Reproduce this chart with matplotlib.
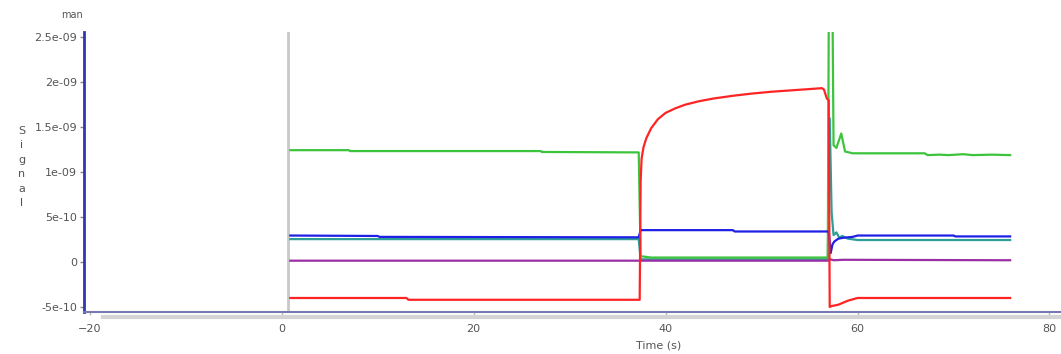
import matplotlib
matplotlib.use("Agg")
import matplotlib.pyplot as plt
from matplotlib.lines import Line2D

# sensorgram traces, time in s, signal in units of 1e-10
green_t = [0.9, 7.0, 7.1, 27.0, 27.1, 37.2, 37.4, 38.5, 56.9, 57.0, 57.4, 57.5,
           57.8, 58.3, 58.7, 59.5, 67.0, 67.3, 68.5, 69.5, 71.0, 72.0, 74.0, 75.9]
green_v = [12.45, 12.45, 12.35, 12.35, 12.25, 12.2, 0.65, 0.5, 0.5, 27.0, 27.0, 13.0,
           12.7, 14.3, 12.3, 12.1, 12.1, 11.9, 11.95, 11.9, 12.0, 11.9, 11.95, 11.9]

red_t = [0.9, 13.0, 13.2, 37.3, 37.4, 37.5, 37.7, 38.0, 38.5, 39.2, 40.0, 41.0, 42.0,
         43.5, 45.0, 47.0, 49.0, 51.0, 53.0, 55.0, 56.3, 56.5, 56.8, 57.0, 57.1, 57.3,
         58.0, 59.0, 60.0, 75.9]
red_v = [-4.0, -4.0, -4.2, -4.2, 9.0, 11.5, 12.8, 13.8, 14.9, 15.9, 16.6, 17.1, 17.5,
         17.9, 18.2, 18.5, 18.75, 18.95, 19.1, 19.25, 19.35, 19.2, 18.2, 18.0, -5.0, -4.9,
         -4.75, -4.3, -4.0, -4.0]

blue_t = [0.9, 10.0, 10.2, 37.2, 37.4, 47.0, 47.2, 57.0, 57.2, 57.4, 57.6, 58.0,
          58.5, 59.5, 60.0, 70.0, 70.2, 75.9]
blue_v = [2.95, 2.9, 2.8, 2.75, 3.55, 3.55, 3.4, 3.4, 1.0, 2.0, 2.3, 2.6,
          2.7, 2.8, 2.95, 2.95, 2.85, 2.85]

teal_t = [0.9, 37.2, 37.4, 56.9, 57.1, 57.3, 57.5, 57.8, 58.1, 58.4, 59.0, 60.0, 75.9]
teal_v = [2.55, 2.55, 0.3, 0.3, 16.0, 5.5, 3.0, 3.3, 2.7, 2.9, 2.6, 2.45, 2.45]

purple_t = [0.9, 57.0, 57.2, 57.5, 58.5, 75.9]
purple_v = [0.15, 0.15, 0.3, 0.2, 0.25, 0.2]

y_ticks = [-5e-10, 0, 5e-10, 1e-09, 1.5e-09, 2e-09, 2.5e-09]
y_ticklabels = ["-5e-10", "0", "5e-10", "1e-09", "1.5e-09", "2e-09", "2.5e-09"]
x_ticks = [-20, 0, 20, 40, 60, 80]

W, H = 1061, 354
fig = plt.figure(figsize=(W / 100, H / 100), dpi=100)
ax = fig.add_axes([84 / W, 42 / H, (W - 84) / W, 280 / H])

def e10(vals):
    return [v * 1e-10 for v in vals]

ax.axvline(0.7, color="#c8c8c8", lw=2, zorder=1)
lw = 1.6
ax.plot(teal_t, e10(teal_v), color="#2e9e96", lw=lw, zorder=2)
ax.plot(green_t, e10(green_v), color="#3cc43c", lw=lw, zorder=3)
ax.plot(blue_t, e10(blue_v), color="#1f1fe6", lw=lw, zorder=4)
ax.plot(purple_t, e10(purple_v), color="#9b2fa6", lw=lw, zorder=5)
ax.plot(red_t, e10(red_v), color="#ff2424", lw=lw, zorder=6)

ax.set_xlim(-20.6, 81.2)
ax.set_ylim(-5.56e-10, 2.56e-09)
ax.set_yticks(y_ticks)
ax.set_yticklabels(y_ticklabels)
ax.set_xticks(x_ticks)

for s in ("top", "right"):
    ax.spines[s].set_visible(False)
ax.spines["left"].set_color("#3434b4")
ax.spines["left"].set_linewidth(2)
ax.spines["bottom"].set_color("#7878b4")
ax.spines["bottom"].set_linewidth(1.5)

ax.tick_params(axis="y", length=3, width=1, color="#888888", pad=2,
               labelsize=8, labelcolor="#555555")
ax.tick_params(axis="x", length=2, width=1, color="#bbbbbb", pad=7,
               labelsize=8, labelcolor="#555555")

# scroll strip under the time axis
fig.add_artist(Line2D([103 / W, 1.0], [(H - 316.5) / H] * 2, color="#d4d4d4", lw=3))

fig.text(83 / W, (H - 15) / H, "man", ha="right", va="center", fontsize=7, color="#555555")
fig.text(22 / W, (H - 167) / H, "S\ni\ng\nn\na\nl", ha="center", va="center",
         fontsize=8, color="#555555", linespacing=1.55)
fig.text(659 / W, (H - 345) / H, "Time (s)", ha="center", va="center",
         fontsize=8, color="#555555")

fig.savefig("out.png", dpi=100)
